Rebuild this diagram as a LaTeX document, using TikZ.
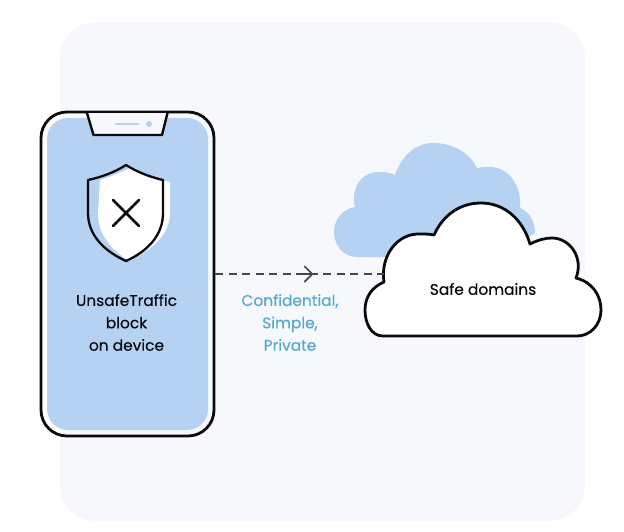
\documentclass[tikz,border=0pt]{standalone}
\usepackage{fontspec}
\setmainfont[FakeBold=0.35]{Poppins}
\usetikzlibrary{arrows.meta}
\definecolor{panelgray}{HTML}{F7F8FB}
\definecolor{softblue}{HTML}{B6D2F3}
\definecolor{inkblack}{HTML}{0A0A0F}
\definecolor{dashgray}{HTML}{45464C}
\definecolor{tealtext}{HTML}{55A9CE}

\begin{document}
\begin{tikzpicture}[x=1pt,y=-1pt,line join=round,line cap=round,
                    >={Straight Barb[length=8pt,width=16pt,line width=1.6pt]},
                    outline/.style={draw=inkblack,line width=2.8pt},
                    thinline/.style={draw=inkblack,line width=2.3pt},
                    link/.style={draw=dashgray,line width=1.6pt,line cap=butt,dash pattern=on 8pt off 5.5pt},
                    label/.style={font=\fontsize{15.4}{22.4}\selectfont,align=center,text=inkblack},
                    phonebox/.style={outline,rounded corners=26pt,minimum width=173pt,minimum height=324pt,inner sep=0pt}]

  \useasboundingbox (0,0) rectangle (624,531);
  \fill[white] (0,0) rectangle (624,531);
  \fill[panelgray,rounded corners=36pt] (60,22) rectangle (585,521);

  % phone
  \node[phonebox] (phone) at (127.5,274) {};
  \fill[softblue,rounded corners=21pt] (47,118) rectangle (208,430);
  \filldraw[fill=panelgray,outline,line width=2.4pt] (87,113) -- (93.5,135) -- (162,135) -- (167.5,113);
  \draw[softblue,line width=2.6pt] (116,124) -- (138,124);
  \fill[softblue] (149,124) circle (3pt);

  % shield
  \fill[white] (100,180) .. controls (110,177) and (122,172) .. (130,168)
     .. controls (140,174) and (158,180) .. (170,182) -- (170,213)
     .. controls (170,235) and (150,252) .. (128,260)
     .. controls (112,250) and (98,235) .. (98,213) -- cycle;
  \draw[thinline] (126,165) .. controls (115,172) and (102,177) .. (88,180) -- (88,213)
     .. controls (88,235) and (104,251) .. (126,261)
     .. controls (148,251) and (163,235) .. (163,213) -- (163,180)
     .. controls (150,177) and (137,172) .. (126,165) -- cycle;
  \draw[thinline,line width=2.8pt] (113,200) -- (139,226) (139,200) -- (113,226);

  \node[label] (phonetext) at (126.5,322.5) {UnsafeTraffic\\block\\on device};

  % clouds
  \fill[softblue] (357,257) .. controls (344,257) and (334,246) .. (334,232)
     .. controls (334,219) and (343,209) .. (355,207)
     .. controls (350,188) and (362,172) .. (378,172)
     .. controls (384,172) and (390,172) .. (395,175)
     .. controls (402,155) and (416,143) .. (433,143)
     .. controls (453,143) and (470,153) .. (477,168)
     .. controls (481,167) and (486,167) .. (490,167)
     .. controls (508,167) and (522,185) .. (520,208)
     .. controls (530,212) and (535,222) .. (535,233)
     -- (500,257) -- cycle;
  \filldraw[fill=white,outline] (383,336)
     .. controls (371,336) and (365,323) .. (365,310)
     .. controls (365,297) and (372,287) .. (384,282)
     .. controls (380,255) and (398,233) .. (420,234)
     .. controls (425,234) and (430,234) .. (434,235)
     .. controls (443,215) and (460,203) .. (481,203)
     .. controls (505,203) and (523,220) .. (530,244)
     .. controls (538,240) and (545,238) .. (552,238)
     .. controls (570,238) and (584,258) .. (576,278)
     .. controls (592,282) and (601,295) .. (601,310)
     .. controls (601,325) and (590,336) .. (577,336) -- cycle;
  \node[label] (cloudtext) at (483,289) {Safe domains};

  % link
  \coordinate (linkmid) at (313.5,274);
  \coordinate (cloudedge) at (384,274);
  \draw[link] (phone.east) -- (cloudedge);
  \draw[->,dashgray,line width=1.5pt] (304,274) -- (linkmid);
  \node[label,text=tealtext] (linktext) at (290,322.5) {Confidential,\\Simple,\\Private};
\end{tikzpicture}
\end{document}
